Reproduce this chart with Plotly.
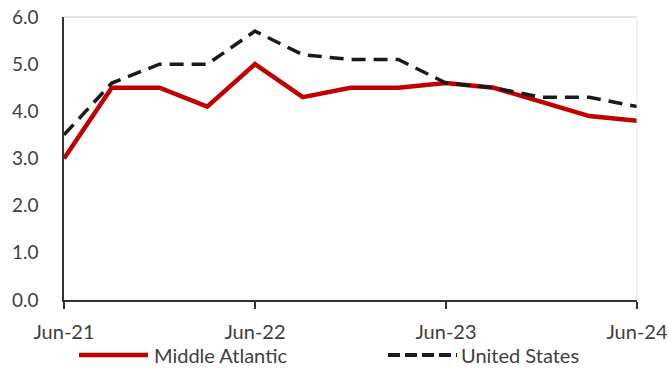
import plotly.graph_objects as go

quarters = ["Jun-21", "Sep-21", "Dec-21", "Mar-22", "Jun-22", "Sep-22", "Dec-22",
            "Mar-23", "Jun-23", "Sep-23", "Dec-23", "Mar-24", "Jun-24"]
middle_atlantic = [3.0, 4.5, 4.5, 4.1, 5.0, 4.3, 4.5, 4.5, 4.6, 4.5, 4.2, 3.9, 3.8]
united_states = [3.5, 4.6, 5.0, 5.0, 5.7, 5.2, 5.1, 5.1, 4.6, 4.5, 4.3, 4.3, 4.1]
x_ticks = ["Jun-21", "Jun-22", "Jun-23", "Jun-24"]
y_ticks = [0, 1, 2, 3, 4, 5, 6]

RED = "#C00000"
DARK = "#1a1a1a"
TEXT = "#404040"
FONT = "Lato"

fig = go.Figure()
fig.add_trace(go.Scatter(x=list(range(len(quarters))), y=middle_atlantic, mode="lines",
                         name="Middle Atlantic", line=dict(color=RED, width=4.5)))
fig.add_trace(go.Scatter(x=list(range(len(quarters))), y=united_states, mode="lines",
                         name="United States",
                         line=dict(color=DARK, width=3.5, dash="14px,8px")))

fig.update_layout(
    width=669, height=368,
    margin=dict(l=64, r=32, t=17, b=68, autoexpand=False),
    paper_bgcolor="white", plot_bgcolor="white",
    showlegend=False,
    font=dict(family=FONT, size=19, color=TEXT),
)
fig.update_xaxes(
    range=[0, len(quarters) - 1], automargin=False,
    tickvals=[quarters.index(t) for t in x_ticks], ticktext=x_ticks,
    showgrid=False, zeroline=False,
    showline=True, linecolor="#333333", linewidth=1.5,
    ticks="outside", ticklen=7, tickcolor="#333333", tickwidth=1.5,
    ticklabelstandoff=6,
    tickfont=dict(size=20, color=TEXT, family=FONT),
)
fig.update_yaxes(
    range=[0, 6], tickvals=y_ticks, ticktext=[f"{v:.1f}" for v in y_ticks],
    automargin=False,
    showgrid=False, zeroline=False,
    showline=True, linecolor="#333333", linewidth=1.5,
    ticks="", ticklabelstandoff=20,
    tickfont=dict(size=19, color=TEXT, family=FONT),
)

# light frame on the top and right of the plot area
fig.add_shape(type="line", xref="paper", yref="paper", x0=0, x1=1, y0=1, y1=1,
              line=dict(color="#c8c8c8", width=1))
fig.add_shape(type="line", xref="paper", yref="paper", x0=1, x1=1, y0=0, y1=1,
              line=dict(color="#e4e4e4", width=1))

# legend drawn below the axis with long line samples
plot_w = 669 - 64 - 32
plot_h = 368 - 17 - 68
def px_x(px):
    return (px - 64) / plot_w
def px_y(py):
    return (368 - 68 - py) / plot_h

legend_y = 355
fig.add_shape(type="line", xref="paper", yref="paper",
              x0=px_x(79), x1=px_x(148), y0=px_y(legend_y), y1=px_y(legend_y),
              line=dict(color=RED, width=4.5))
fig.add_annotation(xref="paper", yref="paper", x=px_x(152), y=px_y(legend_y),
                   text=fig.data[0].name, showarrow=False, xanchor="left", yanchor="middle",
                   font=dict(size=20, color=TEXT, family=FONT))
fig.add_shape(type="line", xref="paper", yref="paper",
              x0=px_x(388), x1=px_x(457), y0=px_y(legend_y), y1=px_y(legend_y),
              line=dict(color=DARK, width=4, dash="12px,5px"))
fig.add_annotation(xref="paper", yref="paper", x=px_x(459), y=px_y(legend_y),
                   text=fig.data[1].name, showarrow=False, xanchor="left", yanchor="middle",
                   font=dict(size=20, color=TEXT, family=FONT))

fig.write_html("out.html")
